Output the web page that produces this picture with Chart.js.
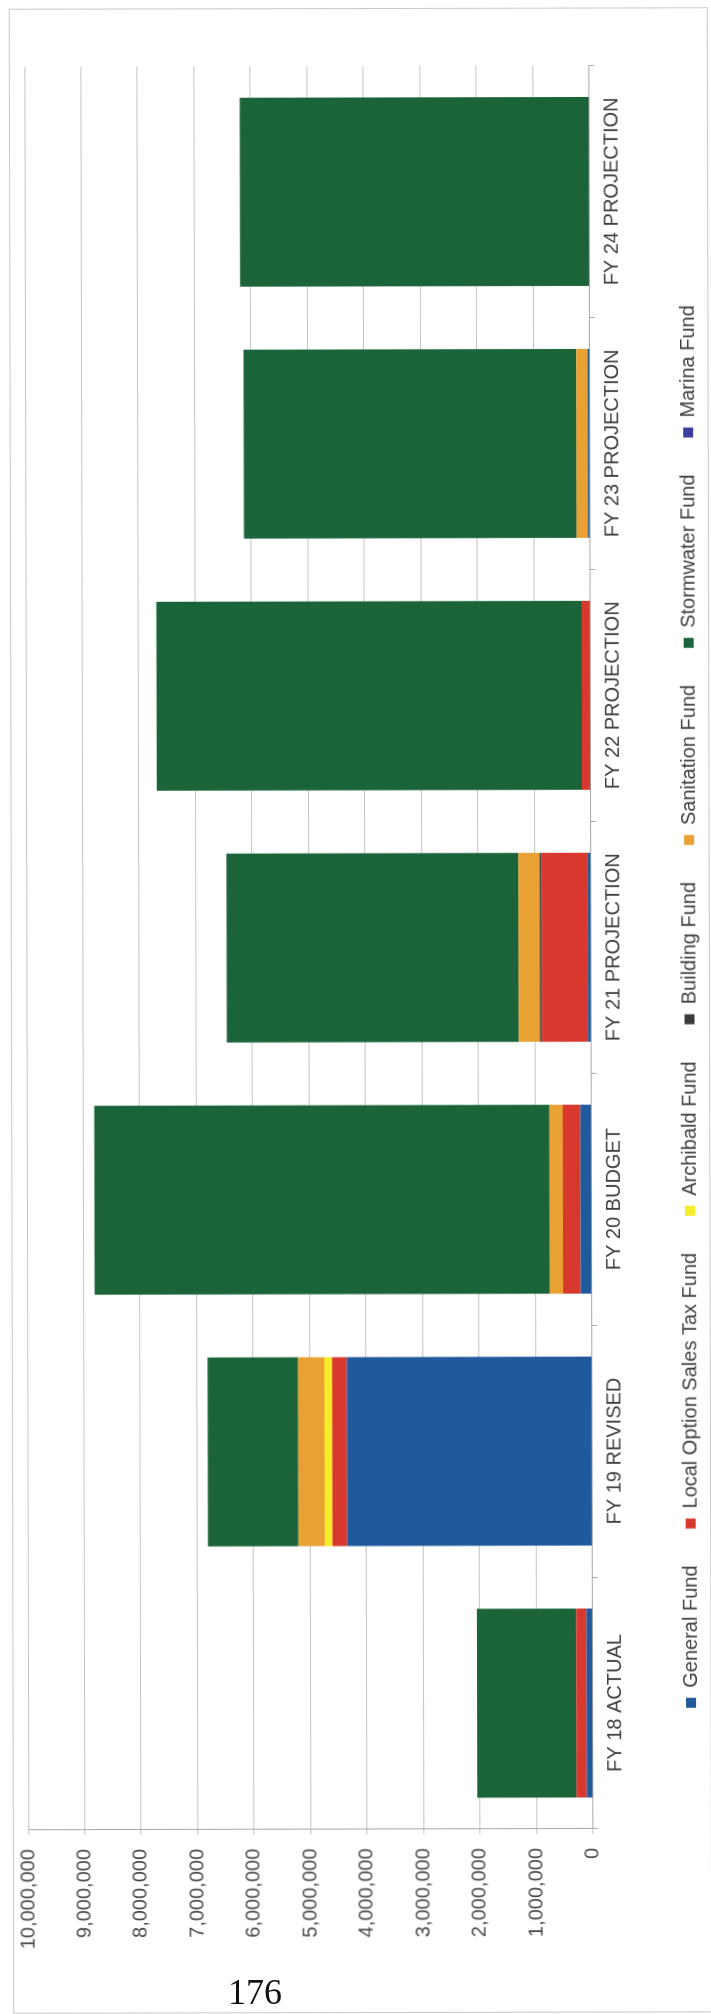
<!DOCTYPE html>
<html>
<head>
<meta charset="utf-8">
<script src="https://cdn.jsdelivr.net/npm/chart.js@4.4.1/dist/chart.umd.min.js"></script>
<style>
  html, body { margin: 0; padding: 0; background: #fff; }
  body { width: 711px; height: 2014px; position: relative; overflow: hidden; }
  #frame {
    position: absolute; left: 11px; top: 8px; width: 697px; height: 2003px;
    border: 1px solid #c9c9c9; transform: rotate(-0.13deg);
  }
  /* chart is laid out landscape and turned onto the portrait page */
  #mycanvas {
    position: absolute; left: -651.5px; top: 651.5px;
    width: 2014px; height: 711px;
    transform: rotate(-90.13deg);
  }
  #pageno {
    position: absolute; left: 228px; top: 1972px;
    font-family: "Liberation Serif", "Times New Roman", serif;
    font-size: 36px; line-height: 40px; color: #111;
  }
</style>
</head>
<body>
<div id="frame"></div>
<canvas id="mycanvas" width="2014" height="711"></canvas>
<div id="pageno">176</div>
<script>
var years = ['FY 18 ACTUAL', 'FY 19 REVISED', 'FY 20 BUDGET', 'FY 21 PROJECTION',
             'FY 22 PROJECTION', 'FY 23 PROJECTION', 'FY 24 PROJECTION'];

var generalFund    = [110000, 4340000, 200000,   60000,       0,   40000,       0];
var lostFund       = [180000,  265000, 310000,  815000,  155000,       0,       0];
var archibaldFund  = [     0,  135000,      0,       0,       0,       0,       0];
var buildingFund   = [     0,       0,      0,   30000,       0,       0,       0];
var sanitationFund = [     0,  465000, 235000,  380000,       0,  200000,       0];
var stormwaterFund = [1760000, 1605000, 8060000, 5170000, 7530000, 5890000, 6190000];
var marinaFund     = [     0,       0,      0,       0,       0,       0,       0];

var yTicks = [0, 1000000, 2000000, 3000000, 4000000, 5000000,
              6000000, 7000000, 8000000, 9000000, 10000000];

Chart.defaults.font.family = "'Liberation Sans', Arial, sans-serif";

function fund(label, data, color) {
  return {
    label: label,
    data: data,
    backgroundColor: color,
    borderWidth: 0,
    categoryPercentage: 0.75,
    barPercentage: 1.0
  };
}

var chartdata = {
  labels: years,
  datasets: [
    fund('General Fund', generalFund, '#215a9c'),
    fund('Local Option Sales Tax Fund', lostFund, '#d9382f'),
    fund('Archibald Fund', archibaldFund, '#f6ec2a'),
    fund('Building Fund', buildingFund, '#3a3a3a'),
    fund('Sanitation Fund', sanitationFund, '#e9a134'),
    fund('Stormwater Fund', stormwaterFund, '#1b6439'),
    fund('Marina Fund', marinaFund, '#3d3f9c')
  ]
};

var ctx = document.getElementById('mycanvas');

var barGraph = new Chart(ctx, {
  type: 'bar',
  data: chartdata,
  options: {
    responsive: false,
    animation: false,
    devicePixelRatio: 1,
    layout: { padding: { left: 66, right: 65.5, top: 25.4, bottom: 2 } },
    plugins: {
      tooltip: { enabled: false },
      legend: {
        position: 'bottom',
        labels: {
          boxWidth: 10,
          boxHeight: 10,
          padding: 37,
          color: '#404040',
          font: { size: 20 }
        }
      }
    },
    scales: {
      x: {
        stacked: true,
        offset: true,
        grid: { drawOnChartArea: false, drawTicks: true, tickLength: 5, offset: true, color: '#a8a8a8' },
        border: { display: true, color: '#a8a8a8' },
        ticks: { color: '#404040', font: { size: 20 }, padding: 6, maxRotation: 0, autoSkip: false },
        afterFit: function(scale) { scale.height = 51.3; }
      },
      y: {
        stacked: true,
        min: 0,
        max: 10000000,
        afterBuildTicks: function(scale) {
          scale.ticks = yTicks.map(function(v) { return { value: v }; });
        },
        grid: { color: '#c4c4c4', tickLength: 5, lineWidth: 1 },
        border: { display: true, color: '#a8a8a8' },
        ticks: {
          color: '#4a4a4a',
          font: { size: 20 },
          padding: 14,
          callback: function(v) { return Number(v).toLocaleString('en-US'); }
        },
        afterFit: function(scale) { scale.width = 119; }
      }
    }
  }
});
</script>
</body>
</html>
